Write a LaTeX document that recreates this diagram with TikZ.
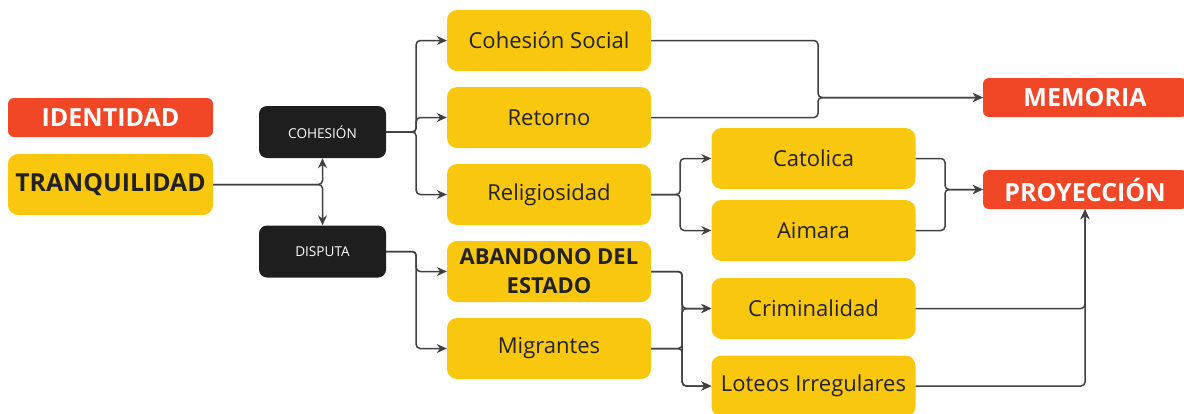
\documentclass[tikz,border=0pt]{standalone}
\usepackage{fontspec}
\setmainfont{Open Sans}
\usetikzlibrary{arrows.meta}
\definecolor{ambar}{HTML}{F9C80E}
\definecolor{rojo}{HTML}{F24726}
\definecolor{negro}{HTML}{1E1E1E}
\definecolor{linea}{HTML}{404040}
\definecolor{texto}{HTML}{222222}
\tikzset{
  base/.style={inner sep=0pt,align=center,text=texto},
  ybox/.style={base,fill=ambar,rounded corners=10pt,minimum width=204pt,minimum height=61pt,font=\fontsize{22}{26}\selectfont},
  rbox/.style={base,fill=rojo,rounded corners=6pt,minimum width=204pt,minimum height=39pt,text=white,font=\fontsize{25}{29}\selectfont\bfseries},
  kbox/.style={base,fill=negro,rounded corners=8pt,minimum width=127pt,minimum height=52pt,text=white,font=\fontsize{13.6}{16}\selectfont},
  conn/.style={linea,line width=1.5pt,rounded corners=4pt,-{Stealth[length=10pt,width=9pt]}},
}

\begin{document}
\begin{tikzpicture}[x=1pt,y=-1pt]
\useasboundingbox (0,0) rectangle (1184,413);
\clip (0,0) rectangle (1184,413);
% left column
\node[rbox,minimum width=205pt] (identidad) at (110.5,117.5) {IDENTIDAD};
\node[ybox,minimum width=205pt,font=\fontsize{24.8}{29}\selectfont\bfseries] (tranq) at (110.5,184.5) {TRANQUILIDAD};
\node[kbox] (cohesion) at (322.5,132) {COHESIÓN};
\node[kbox] (disputa) at (322.5,251.5) {DISPUTA};
% middle column
\node[ybox] (csocial) at (549,40.5) {Cohesión Social};
\node[ybox] (retorno) at (549,117.5) {Retorno};
\node[ybox] (relig) at (549,194.5) {Religiosidad};
\node[ybox,font=\fontsize{22}{29}\selectfont\bfseries] (abandono) at (549,271.5) {ABANDONO DEL\\ESTADO};
\node[ybox] (migrantes) at (549,348.5) {Migrantes};
% right column
\node[ybox] (catolica) at (813.5,158.5) {Catolica};
\node[ybox] (aimara) at (813.5,230.5) {Aimara};
\node[ybox] (crim) at (813.5,308.5) {Criminalidad};
\node[ybox] (loteos) at (813.5,386) {Loteos Irregulares};
\node[rbox] (memoria) at (1085,97.5) {MEMORIA};
\node[rbox] (proy) at (1085,189.5) {PROYECCIÓN};
\coordinate (mjoin) at (818,97.5);
\coordinate (pjoin) at (945,189.5);
% connectors
\draw[conn] (tranq.east) -| (cohesion.south);
\draw[conn] (tranq.east) -| (disputa.north);
\foreach \dst in {csocial,retorno,relig}
  \draw[conn] (cohesion.east) -- ++(30,0) |- (\dst.west);
\foreach \dst in {abandono,migrantes}
  \draw[conn] (disputa.east) -- ++(30,0) |- (\dst.west);
\foreach \src in {csocial,retorno}
  \draw[conn] (\src.east) -| (mjoin) -- (memoria.west);
\foreach \dst in {catolica,aimara}
  \draw[conn] (relig.east) -- ++(29,0) |- (\dst.west);
\foreach \src in {catolica,aimara}
  \draw[conn] (\src.east) -| (pjoin) -- (proy.west);
\foreach \src in {abandono,migrantes}
  \foreach \dst in {crim,loteos}
    \draw[conn] (\src.east) -- ++(31,0) |- (\dst.west);
\foreach \src in {crim,loteos}
  \draw[conn] (\src.east) -| (proy.south);
\end{tikzpicture}
\end{document}
